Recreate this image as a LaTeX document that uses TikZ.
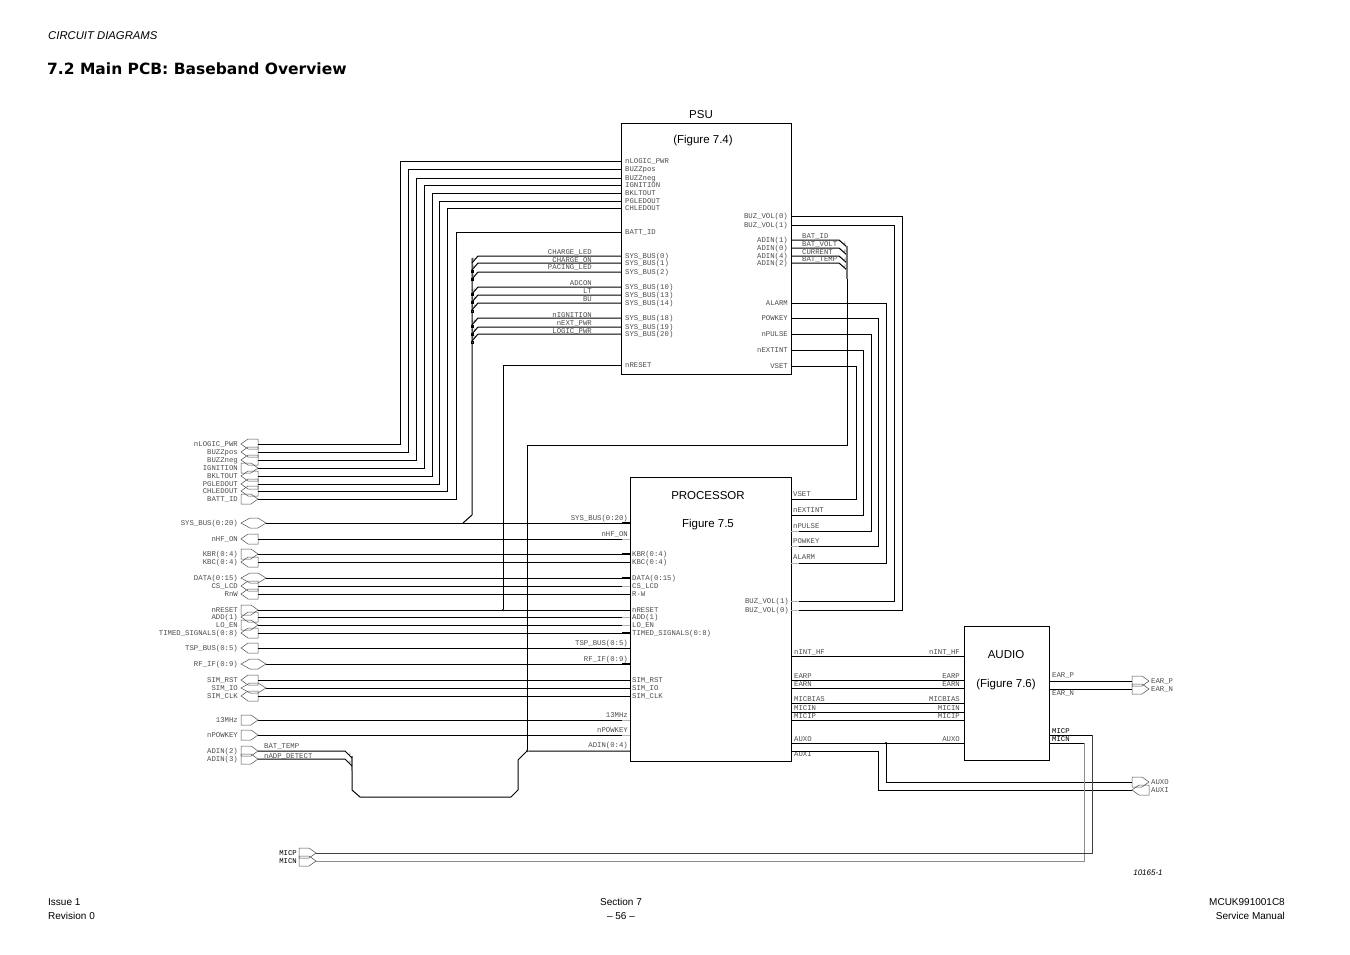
\documentclass[tikz,border=0pt]{standalone}
\usepackage{fontspec}
\setmainfont{Liberation Sans}
\newfontfamily\pinfont{Liberation Mono}
\newfontfamily\headfont{DejaVu Sans}
\tikzstyle{block}=[draw,line width=1pt,inner sep=0pt,outer sep=0pt,anchor=north west]
\tikzstyle{wire} = [draw,line width=1pt,-]
\tikzstyle{stub} = [draw,line width=1.7pt,-]
\tikzstyle{greystub} = [draw,line width=1pt,black!30,-]
\tikzstyle{pinname}=[font=\pinfont\fontsize{7.3}{7.3}\selectfont,text=black!70,inner sep=0pt,text height=5pt,text depth=0pt]
\tikzstyle{busnum}=[font=\pinfont\fontsize{3.5}{3.5}\selectfont,text=black!70,inner sep=0pt]
\tikzstyle{portline}=[draw,line width=0.5pt,black!70]
\tikzstyle{busdot}=[draw,rectangle,minimum size=2pt,inner sep=0pt,line width=0.5pt]
\tikzstyle{junction}=[circle,fill=black,minimum size=2.5pt,inner sep=0pt]
\tikzstyle{plain}=[font=\fontsize{11.5}{13}\selectfont,inner sep=0pt,text height=8pt,text depth=0pt]
\tikzstyle{foot}=[font=\fontsize{10}{12}\selectfont,inner sep=0pt,text height=7pt,text depth=0pt]
\tikzset{
  portin/.pic={\draw[portline] (-17,0) -- (-10,-5) -- (0,-5) -- (0,5) -- (-10,5) -- cycle;
    \coordinate (-end) at (0,0); \coordinate (-tail) at (-17,0);},
  portout/.pic={\draw[portline] (-17,-5) -- (-7,-5) -- (0,0) -- (-7,5) -- (-17,5) -- cycle;
    \coordinate (-end) at (0,0); \coordinate (-tail) at (-17,0);},
  portbi/.pic={\draw[portline] (-17,0) -- (-8,-5) -- (0,-5) -- (8,0) -- (0,5) -- (-8,5) -- cycle;
    \coordinate (-end) at (8,0);}
}
\begin{document}
\begin{tikzpicture}[x=1pt,y=-1pt]
    \useasboundingbox (0,0) rectangle (1350,954);
    % Page texts
    \node[plain,anchor=west,font=\fontsize{11.3}{13}\selectfont\itshape] (chapter) at (48,35) {CIRCUIT DIAGRAMS};
    \node[plain,anchor=west,text height=11pt,font=\headfont\fontsize{15.5}{17}\selectfont\bfseries] (title) at (47,69) {7.2 Main PCB: Baseband Overview};
    \node[foot,anchor=west] (issue) at (48,902) {Issue 1};
    \node[foot,anchor=west] (revision) at (48,916) {Revision 0};
    \node[foot] (section) at (621,902) {Section 7};
    \node[foot] (pageno) at (621,916) {-- 56 --};
    \node[foot,anchor=east] (docno) at (1285,902) {MCUK991001C8};
    \node[foot,anchor=east] (manual) at (1285,916) {Service Manual};
    \node[foot,font=\fontsize{8}{10}\selectfont\itshape] (drawno) at (1148,872) {10165-1};
    % First we draw the three blocks
    \node[block,minimum width=170pt,minimum height=251pt] (psu) at (621,123) {};
    \node[block,minimum width=161pt,minimum height=284pt] (proc) at (630,477) {};
    \node[block,minimum width=85pt,minimum height=134pt] (audio) at (964,626) {};
    \node[plain] (psuname) at (701,114) {PSU};
    \node[plain] (psufig) at (703,139) {(Figure 7.4)};
    \node[plain] (procname) at (708,495) {PROCESSOR};
    \node[plain] (procfig) at (708,523) {Figure 7.5};
    \node[plain] (audioname) at (1006,654) {AUDIO};
    \node[plain] (audiofig) at (1006,683) {(Figure 7.6)};
    % PSU left side to the ports
    \foreach \name/\yi/\xv/\yo/\kind/\lab in {logic/161/400/444/portin/nLOGIC\_PWR, buzp/169/408/452/portin/BUZZpos,
        buzn/178/416/460/portin/BUZZneg, ign/185/424/468/portout/IGNITION, bkl/193/432/476/portin/BKLTOUT,
        pgl/201/439/484/portin/PGLEDOUT, chl/208/447/491/portin/CHLEDOUT, batt/232/456/499/portout/BATT\_ID} {
        \coordinate (psu\name) at (621,\yi);
        \node[pinname,anchor=west] (psul\name) at (625,\yi) {\lab};
        \node[pinname,anchor=east] (extl\name) at (238,\yo) {\lab};
        \pic (ext\name) at (258,\yo) {\kind};
        \path[wire] (psu\name) -| (\xv,\yo) -- (ext\name-end);
    }
    % Ports to the processor
    \foreach \name/\yo/\kind/\xl/\dy/\anc/\extlab/\lab in {sys/523/portbi/628/-5/east/SYS\_BUS(0:20)/SYS\_BUS(0:20),
        hf/539/portin/628/-5/east/nHF\_ON/nHF\_ON, kbr/554/portout/632/0/west/KBR(0:4)/KBR(0:4),
        kbc/562/portin/632/0/west/KBC(0:4)/KBC(0:4), data/578/portbi/632/0/west/DATA(0:15)/DATA(0:15),
        cs/586/portin/632/0/west/CS\_LCD/CS\_LCD, rnw/594/portin/632/0/west/RnW/R-W,
        rst/610/portout/632/0/west/nRESET/nRESET, add/617/portin/632/0/west/ADD(1)/ADD(1),
        lo/625/portout/632/0/west/LO\_EN/LO\_EN, timed/633/portin/632/0/west/TIMED\_SIGNALS(0:8)/TIMED\_SIGNALS(0:8),
        tsp/648/portin/628/-5/east/TSP\_BUS(0:5)/TSP\_BUS(0:5), rf/664/portbi/628/-5/east/RF\_IF(0:9)/RF\_IF(0:9),
        simr/680/portin/632/0/west/SIM\_RST/SIM\_RST, simi/688/portbi/632/0/west/SIM\_IO/SIM\_IO,
        simc/696/portin/632/0/west/SIM\_CLK/SIM\_CLK, mhz/720/portout/628/-5/east/13MHz/13MHz,
        pow/735/portout/628/-5/east/nPOWKEY/nPOWKEY} {
        \pic (ext\name) at (258,\yo) {\kind};
        \coordinate (proc\name) at (630,\yo);
        \node[pinname,anchor=east] (extl\name) at (238,\yo) {\extlab};
        \node[pinname,anchor=\anc] (procl\name) at (\xl,\yo+\dy) {\lab};
        \path[wire] (ext\name-end) -- (proc\name);
    }
    \foreach \yo in {523,554,578,633,664}
        \path[stub] (622,\yo) -- (630,\yo);
    \foreach \yo in {539,586,617,625,720,735}
        \path[greystub] (622,\yo) -- (630,\yo);
    % SYS_BUS entries on the PSU
    \foreach \name/\y/\sig/\lab/\ly/\num in {a/256/SYS\_BUS(0)/CHARGE\_LED/252/0, b/263/SYS\_BUS(1)/CHARGE\_ON/260/1,
        c/272/SYS\_BUS(2)/PACING\_LED/267/2, d/287/SYS\_BUS(10)/ADCON/283/10, e/295/SYS\_BUS(13)/LT/291/13,
        f/303/SYS\_BUS(14)/BU/299/14, g/318/SYS\_BUS(18)/nIGNITION/315/18, h/327/SYS\_BUS(19)/nEXT\_PWR/323/19,
        i/334/SYS\_BUS(20)/LOGIC\_PWR/331/20} {
        \coordinate (sys\name) at (621,\y);
        \node[pinname,anchor=west] (psub\name) at (625,\y) {\sig};
        \node[pinname,anchor=east] (sigl\name) at (592,\ly) {\lab};
        \node[busnum] (num\name) at (473.5,\y+3) {\num};
        \path[wire] (sys\name) -- (478,\y) -- (472,\y+7);
    }
    \foreach \name/\y/\col in {a/271/black,b/279/black,c/294/black,d/302/black,e/311/white,f/326/black,g/334/black,h/342/white}
        \node[busdot,fill=\col] (tap\name) at (472,\y) {};
    \coordinate (bustop) at (472,258);
    \path[wire] (bustop) -- (472,515) -- (463,523);
    % nRESET branch
    \coordinate (psurst) at (621,365);
    \node[pinname,anchor=west] (psulrst) at (625,365) {nRESET};
    \node[junction] (rstdot) at (503,610) {};
    \path[wire] (psurst) -| (rstdot);
    % PSU right side to the processor
    \foreach \name/\yi/\xv/\yo/\lab in {vset/366/856/499/VSET, ext/350/863/515/nEXTINT, pulse/334/871/531/nPULSE,
        powk/318/878/546/POWKEY, alarm/303/886/563/ALARM, buz1/225/894/601/BUZ\_VOL(1), buz0/216/902/610/BUZ\_VOL(0)} {
        \coordinate (psu\name) at (791,\yi);
        \coordinate (proc\name) at (791,\yo);
        \node[pinname,anchor=east] (psur\name) at (788,\yi) {\lab};
        \path[wire] (psu\name) -| (\xv,\yo) -- (proc\name);
    }
    \foreach \name/\lab/\y in {vset/VSET/494, ext/nEXTINT/510, pulse/nPULSE/526, powk/POWKEY/541, alarm/ALARM/557}
        \node[pinname,anchor=west] (procr\name) at (793,\y) {\lab};
    \foreach \name/\lab/\y in {buz1/BUZ\_VOL(1)/601, buz0/BUZ\_VOL(0)/610}
        \node[pinname,anchor=east] (procr\name) at (789,\y) {\lab};
    \foreach \y in {531,546,563,601,610}
        \path[greystub] (791,\y) -- (799,\y);
    % ADIN bus
    \foreach \name/\y/\sig/\lab/\num in {p/240/ADIN(1)/BAT\_ID/1, q/248/ADIN(0)/BAT\_VOLT/0, r/256/ADIN(4)/CURRENT/4, s/263/ADIN(2)/BAT\_TEMP/2} {
        \coordinate (adin\name) at (791,\y);
        \node[pinname,anchor=east] (psua\name) at (788,\y) {\sig};
        \node[pinname,anchor=west] (siga\name) at (802,\y-4) {\lab};
        \node[busnum] (numa\name) at (845,\y+3) {\num};
        \path[wire] (adin\name) -- (839,\y) -- (847,\y+7);
    }
    \coordinate (adintop) at (847,246);
    \coordinate (adinmid) at (847,279);
    \path[draw,line width=1.3pt,black!55] (adintop) -- (adinmid);
    \node[junction] (adindot) at (527,751) {};
    \coordinate (procadin) at (630,751);
    \node[pinname,anchor=east] (procladin) at (628,745) {ADIN(0:4)};
    \path[wire] (adinmid) -- (847,445) -- (527,445) -- (adindot);
    % ADIN wire round the bottom
    \coordinate (adinleft) at (352,771);
    \path[wire] (procadin) -- (adindot) -- (518,760) -- (518,790) -- (511,797) -- (360,797) -- (352,790) -- (adinleft);
    \path[draw,line width=1.3pt,black!55] (352,756) -- (adinleft);
    \foreach \name/\yo/\lab/\ly/\sig/\num in {m/751/ADIN(2)/746/BAT\_TEMP/2, n/759/ADIN(3)/756/nADP\_DETECT/3} {
        \pic (ext\name) at (258,\yo) {portout};
        \node[pinname,anchor=east] (extl\name) at (238,\yo) {\lab};
        \node[pinname,anchor=west] (sigl\name) at (264,\ly) {\sig};
        \node[busnum] (numb\name) at (350,\yo+3) {\num};
        \path[wire] (ext\name-end) -- (345,\yo) -- (352,\yo+7);
    }
    % Processor to audio
    \foreach \name/\y/\lab in {inth/656/nINT\_HF, earp/680/EARP, earn/688/EARN, micb/703/MICBIAS, micn/712/MICIN, micp/720/MICIP, auxo/743/AUXO} {
        \coordinate (pr\name) at (791,\y);
        \coordinate (au\name) at (964,\y);
        \node[pinname,anchor=west] (prl\name) at (794,\y-4) {\lab};
        \node[pinname,anchor=east] (aul\name) at (960,\y-4) {\lab};
        \path[wire] (pr\name) -- (au\name);
    }
    % Audio outputs and the ports on the right
    \foreach \name/\y/\ly/\kind/\lab in {earp/681/675/portout/EAR\_P, earn/689/693/portout/EAR\_N} {
        \coordinate (out\name) at (1049,\y);
        \pic (right\name) at (1149,\y) {\kind};
        \node[pinname,anchor=west] (rightl\name) at (1151,\y-0.5) {\lab};
        \node[pinname,anchor=west] (outl\name) at (1052,\ly) {\lab};
        \path[wire] (out\name) -- (right\name-tail);
    }
    \pic (rightauxo) at (1149,782) {portout};
    \pic (rightauxi) at (1149,790) {portin};
    \node[pinname,anchor=west] (rightlauxo) at (1151,782) {AUXO};
    \node[pinname,anchor=west] (rightlauxi) at (1151,790) {AUXI};
    \node[junction] (auxodot) at (886,743) {};
    \coordinate (prauxi) at (791,751);
    \node[pinname,anchor=west] (prlauxi) at (794,754) {AUXI};
    \path[wire] (auxodot) |- (rightauxo-tail);
    \path[wire] (prauxi) -| (878,790) -- (rightauxi-tail);
    % MIC lines
    \pic (micpleft) at (316,853) {portout};
    \pic (micnleft) at (316,861) {portout};
    \node[pinname,anchor=east,text=black] (miclp) at (297,853) {MICP};
    \node[pinname,anchor=east,text=black] (micln) at (297,861) {MICN};
    \coordinate (outmicp) at (1049,735);
    \coordinate (outmicn) at (1049,743);
    \node[pinname,anchor=west,text=black] (outlmicp) at (1052,731) {MICP};
    \node[pinname,anchor=west,text=black] (outlmicn) at (1052,739) {MICN};
    \path[draw,line width=1pt,black!45] (micnleft-end) -| (1084,743);
    \path[draw,line width=1pt,black!75] (micpleft-end) -| (1092,735);
    \path[wire] (outmicp) -- (1092,735);
    \path[wire] (outmicn) -- (1084,743);
\end{tikzpicture}
\end{document}
